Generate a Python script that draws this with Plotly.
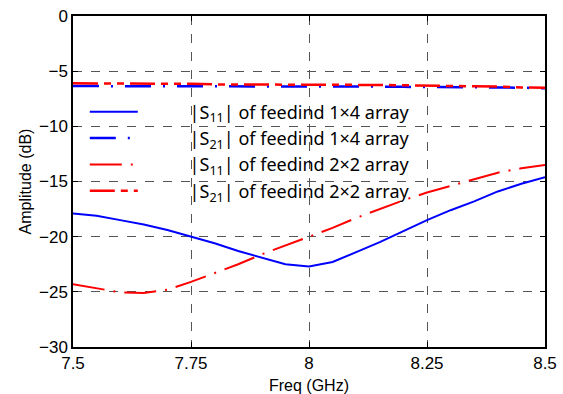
import plotly.graph_objects as go

freq = [7.5, 7.55, 7.6, 7.65, 7.7, 7.75, 7.8, 7.85, 7.9, 7.95, 8.0,
        8.05, 8.1, 8.15, 8.2, 8.25, 8.3, 8.35, 8.4, 8.45, 8.5]

s11_1x4 = [-17.9, -18.1, -18.5, -18.9, -19.4, -20.0, -20.6, -21.3, -21.9, -22.5, -22.7,
           -22.3, -21.4, -20.5, -19.5, -18.5, -17.6, -16.8, -15.9, -15.2, -14.6]
s21_1x4 = [-6.35, -6.35, -6.35, -6.35, -6.35, -6.35, -6.35, -6.35, -6.35, -6.35, -6.38,
           -6.38, -6.4, -6.4, -6.42, -6.42, -6.45, -6.45, -6.48, -6.5, -6.55]
s11_2x2 = [-24.3, -24.7, -25.05, -25.1, -24.8, -24.1, -23.3, -22.5, -21.6, -20.8, -20.0,
           -19.2, -18.3, -17.5, -16.7, -16.0, -15.4, -14.8, -14.2, -13.8, -13.5]
s21_2x2 = [-6.1, -6.1, -6.1, -6.1, -6.12, -6.15, -6.2, -6.2, -6.2, -6.2, -6.22,
           -6.22, -6.25, -6.25, -6.28, -6.3, -6.32, -6.35, -6.4, -6.48, -6.5]

names = ["|S<sub>11</sub>| of feedind 1×4 array",
         "|S<sub>21</sub>| of feedind 1×4 array",
         "|S<sub>11</sub>| of feedind 2×2 array",
         "|S<sub>21</sub>| of feedind 2×2 array"]

x_ticks = [7.5, 7.75, 8, 8.25, 8.5]
x_tick_text = ["7.5", "7.75", "8", "8.25", "8.5"]
y_ticks = [0, -5, -10, -15, -20, -25, -30]

pad = "\u00a0" * 10

fig = go.Figure()
fig.add_trace(go.Scatter(x=freq, y=s11_1x4, mode="lines", name=pad + names[0],
                         line=dict(color="#0000ff", width=2, dash="solid")))
fig.add_trace(go.Scatter(x=freq, y=s21_1x4, mode="lines", name=pad + names[1],
                         line=dict(color="#0000ff", width=2.5, dash="26px,12px,2px,12px")))
fig.add_trace(go.Scatter(x=freq, y=s11_2x2, mode="lines", name=pad + names[2],
                         line=dict(color="#ff0000", width=2, dash="32px,9px,2px,9px")))
fig.add_trace(go.Scatter(x=freq, y=s21_2x2, mode="lines", name=pad + names[3],
                         line=dict(color="#ff0000", width=2.5, dash="25px,6px,7px,6px,7px,6px")))

axis_common = dict(
    showline=True, linecolor="black", linewidth=1.5, mirror="ticks",
    ticks="inside", ticklen=5, tickcolor="black",
    showgrid=True, gridcolor="#555555", griddash="dash", gridwidth=1,
    zeroline=False, automargin=False,
    tickfont=dict(family="Liberation Sans, Arial", size=17, color="black"),
)

fig.update_xaxes(range=[7.5, 8.5], tickvals=x_ticks, ticktext=x_tick_text,
                 title=dict(text="Freq (GHz)",
                            font=dict(family="Liberation Sans, Arial", size=16, color="black")),
                 **axis_common)
fig.update_yaxes(range=[-30, 0], tickvals=y_ticks,
                 title=dict(text="Amplitude (dB)", standoff=3,
                            font=dict(family="Liberation Sans, Arial", size=16, color="black")),
                 **axis_common)

fig.update_layout(
    width=563, height=394,
    margin=dict(l=73, r=18, t=16, b=47),
    paper_bgcolor="white", plot_bgcolor="white",
    showlegend=True,
    legend=dict(x=0.025, y=0.766, xanchor="left", yanchor="top",
                bgcolor="rgba(0,0,0,0)", borderwidth=0, itemwidth=48,
                font=dict(family="Noto Sans, Open Sans", size=18, color="black")),
)

fig.write_html("out.html")
